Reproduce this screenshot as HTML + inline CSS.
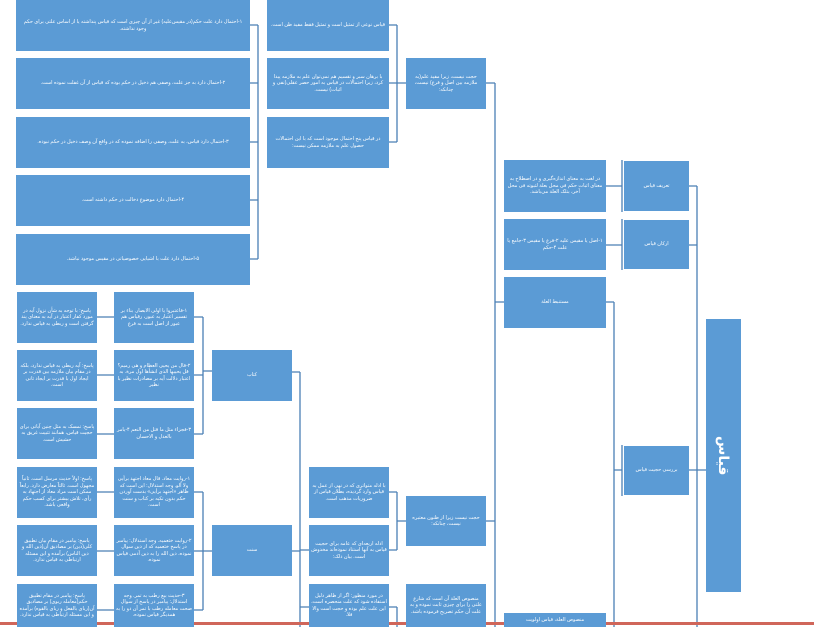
<!DOCTYPE html>
<html><head><meta charset="utf-8"><style>
body{margin:0;width:814px;height:627px;overflow:hidden;background:#fff;position:relative;font-family:"Liberation Sans","DejaVu Sans",sans-serif}
.b{position:absolute;background:#5b9bd5;color:#fff;font-size:5px;line-height:6.5px;display:flex;align-items:center;justify-content:center;text-align:center;direction:rtl;padding:0 2px;box-sizing:border-box;overflow:hidden}
svg{position:absolute;left:0;top:0}
</style></head><body>
<svg width="814" height="627"><g stroke="#4a7fb5" stroke-width="1.3" fill="none">
<path d="M250 25H258M250 83H258M250 142H258M250 200H258M250 259H258M258 25V259"/>
<path d="M389 25H397M389 83H397M389 142H397M397 25V142M397 83H406"/>
<path d="M486 83H495M495 83V627M495 302H504M486 521H495"/>
<path d="M606 186H622M606 245H622M622 160V212M622 219V270M689 186H697M689 245H697M697 186V627M697 470H706M689 470H697"/>
<path d="M606 302H614M614 302V627M614 470H622M622 445V496"/>
<path d="M389 492H397M389 550H397M397 492V550M397 521H406M389 607H397M397 607V627"/>
<path d="M300 372V627M292 372H300M292 551H300M300 550H309M300 607H309"/>
<path d="M194 317H203M194 375H203M194 434H203M203 317V434M203 371H212"/>
<path d="M194 492H203M194 551H203M194 610H203M203 492V610M203 551H212"/>
<path d="M97 317H114M97 375H114M97 434H114M97 492H114M97 551H114M97 610H114"/>
</g><rect x="0" y="622" width="814" height="3" fill="#d0665a"/></svg>
<div class="b" style="left:16px;top:0;width:234px;height:51px">۱-احتمال دارد علت حکم(در مقیس‌علیه) غیر از آن چیزی است که قیاس پنداشته یا از اساس علتی برای حکم وجود نداشته.</div>
<div class="b" style="left:16px;top:58px;width:234px;height:51px">۲-احتمال دارد به جز علت، وصفی هم دخیل در حکم بوده که قیاس از آن غفلت نموده است.</div>
<div class="b" style="left:16px;top:117px;width:234px;height:51px">۳-احتمال دارد قیاس، به علت، وصفی را اضافه نموده که در واقع آن وصف دخیل در حکم نبوده.</div>
<div class="b" style="left:16px;top:175px;width:234px;height:51px">۴-احتمال دارد موضوع دخالت در حکم داشته است.</div>
<div class="b" style="left:16px;top:234px;width:234px;height:51px">۵-احتمال دارد علت با اشیایی خصوصیاتی در مقیس موجود نباشد.</div>
<div class="b" style="left:267px;top:0;width:122px;height:51px">قیاس نوعی از تمثیل است و تمثیل فقط مفید ظن است.</div>
<div class="b" style="left:267px;top:58px;width:122px;height:51px">با برهان سبر و تقسیم هم نمی‌توان علم به ملازمه پیدا کرد، زیرا احتمالات در قیاس به امور حصر عقلی(نفی و اثبات) نیست.</div>
<div class="b" style="left:267px;top:117px;width:122px;height:51px">در قیاس پنج احتمال موجود است که با این احتمالات حصول علم به ملازمه ممکن نیست:</div>
<div class="b" style="left:406px;top:58px;width:80px;height:51px">حجت نیست، زیرا مفید علم(به ملازمه بین اصل و فرع) نیست، چنانکه:</div>
<div class="b" style="left:504px;top:160px;width:102px;height:52px">در لغت به معنای اندازه‌گیری و در اصطلاح به معنای اثبات حکم فی محل بعلة لثبوته فی محل آخر، بتلک العلة می‌باشد.</div>
<div class="b" style="left:504px;top:219px;width:102px;height:51px">۱-اصل یا مقیس علیه ۲-فرع یا مقیس ۳-جامع یا علت ۴-حکم</div>
<div class="b" style="left:504px;top:277px;width:102px;height:51px">مستنبط العلة</div>
<div class="b" style="left:624px;top:161px;width:65px;height:50px">تعریف قیاس</div>
<div class="b" style="left:624px;top:220px;width:65px;height:49px">ارکان قیاس</div>
<div class="b" style="left:624px;top:446px;width:65px;height:49px">بررسی حجیت قیاس</div>
<div class="b" style="left:706px;top:319px;width:35px;height:273px;font-size:14px;font-weight:bold"><span style="writing-mode:vertical-rl">قیاس</span></div>
<div class="b" style="left:309px;top:467px;width:80px;height:51px">با ادله متواتری که در نهی از عمل به قیاس وارد گردیده، بطلان قیاس از ضروریات مذهب است.</div>
<div class="b" style="left:309px;top:525px;width:80px;height:51px">ادله اربعه‌ای که عامه برای حجیت قیاس به آنها استناد نموده‌اند مخدوش است. بیان ذلک:</div>
<div class="b" style="left:309px;top:584px;width:80px;height:43px">در مورد منظور: اگر از ظاهر دلیل استفاده شود که علت منحصره است، این علت علم بوده و حجت است والا فلا.</div>
<div class="b" style="left:406px;top:496px;width:80px;height:50px">حجت نیست زیرا از ظنون معتبره نیست، چنانکه:</div>
<div class="b" style="left:406px;top:584px;width:80px;height:43px">منصوص العلة آن است که شارع علتی را برای چیزی ثابت نموده و به علت آن حکم تصریح فرموده باشد.</div>
<div class="b" style="left:504px;top:613px;width:102px;height:14px">منصوص العلة، قیاس اولویت</div>
<div class="b" style="left:212px;top:350px;width:80px;height:51px">کتاب</div>
<div class="b" style="left:212px;top:525px;width:80px;height:51px">سنت</div>
<div class="b" style="left:114px;top:292px;width:80px;height:51px">۱-فاعتبروا یا اولی الابصار. بناء بر تفسیر اعتبار به عبور، رقیاس هم عبور از اصل است به فرع</div>
<div class="b" style="left:114px;top:350px;width:80px;height:51px">۲-قال من یحیی العظام و هی رمیم؟ قل یحییها الذی انشأها اول مرة. به اعتبار دلالت آیه بر مصادرات نظیر با نظیر</div>
<div class="b" style="left:114px;top:408px;width:80px;height:51px">۳-فجزاء مثل ما قتل من النعم ۴-یامر بالعدل و الاحسان</div>
<div class="b" style="left:114px;top:467px;width:80px;height:51px">۱-روایت معاذ. قال معاذ اجتهد برأیی ولا آلو. وجه استدلال: این است که ظاهر «اجتهد برأیی» بدست آوردن حکم بدون تکیه بر کتاب و سنت است.</div>
<div class="b" style="left:114px;top:525px;width:80px;height:51px">۲-روایت خثعمیه. وجه استدلال: پیامبر در پاسخ خثعمیه که از دین سوال نموده، دین الله را به دین آدمی قیاس نموده.</div>
<div class="b" style="left:114px;top:584px;width:80px;height:43px">۳-حدیث بیع رطب به تمر. وجه استدلال: پیامبر در پاسخ از سوال صحت معامله رطب با تمر آن دو را به همدیگر قیاس نموده.</div>
<div class="b" style="left:17px;top:292px;width:80px;height:51px">پاسخ: با توجه به شأن نزول آیه در مورد کفار اعتبار در آیه به معنای پند گرفتن است و ربطی به قیاس ندارد.</div>
<div class="b" style="left:17px;top:350px;width:80px;height:51px">پاسخ: آیه ربطی به قیاس ندارد، بلکه در مقام بیان ملازمه بین قدرت بر ایجاد اول با قدرت بر ایجاد ثانی است.</div>
<div class="b" style="left:17px;top:408px;width:80px;height:51px">پاسخ: تمسک به مثل چنین آیاتی برای حجیت قیاس، همانند تثبیت غریق به حشیش است.</div>
<div class="b" style="left:17px;top:467px;width:80px;height:51px">پاسخ: اولاً حدیث مرسل است. ثانیاً مجهول است. ثالثاً معارض دارد. رابعاً ممکن است مراد معاذ از اجتهاد به رأی، تلاش بیشتر برای کسب حکم واقعی باشد.</div>
<div class="b" style="left:17px;top:525px;width:80px;height:51px">پاسخ: پیامبر در مقام بیان تطبیق کلی(دین) بر مصادیق آن(دین الله و دین الناس) برآمده و این مسئله ارتباطی به قیاس ندارد.</div>
<div class="b" style="left:17px;top:584px;width:80px;height:43px">پاسخ: پیامبر در مقام تطبیق حکم(معامله ربوی) بر مصادیق آن(ربای بالفعل و ربای بالقوه) برآمده و این مسئله ارتباطی به قیاس ندارد.</div>
</body></html>
